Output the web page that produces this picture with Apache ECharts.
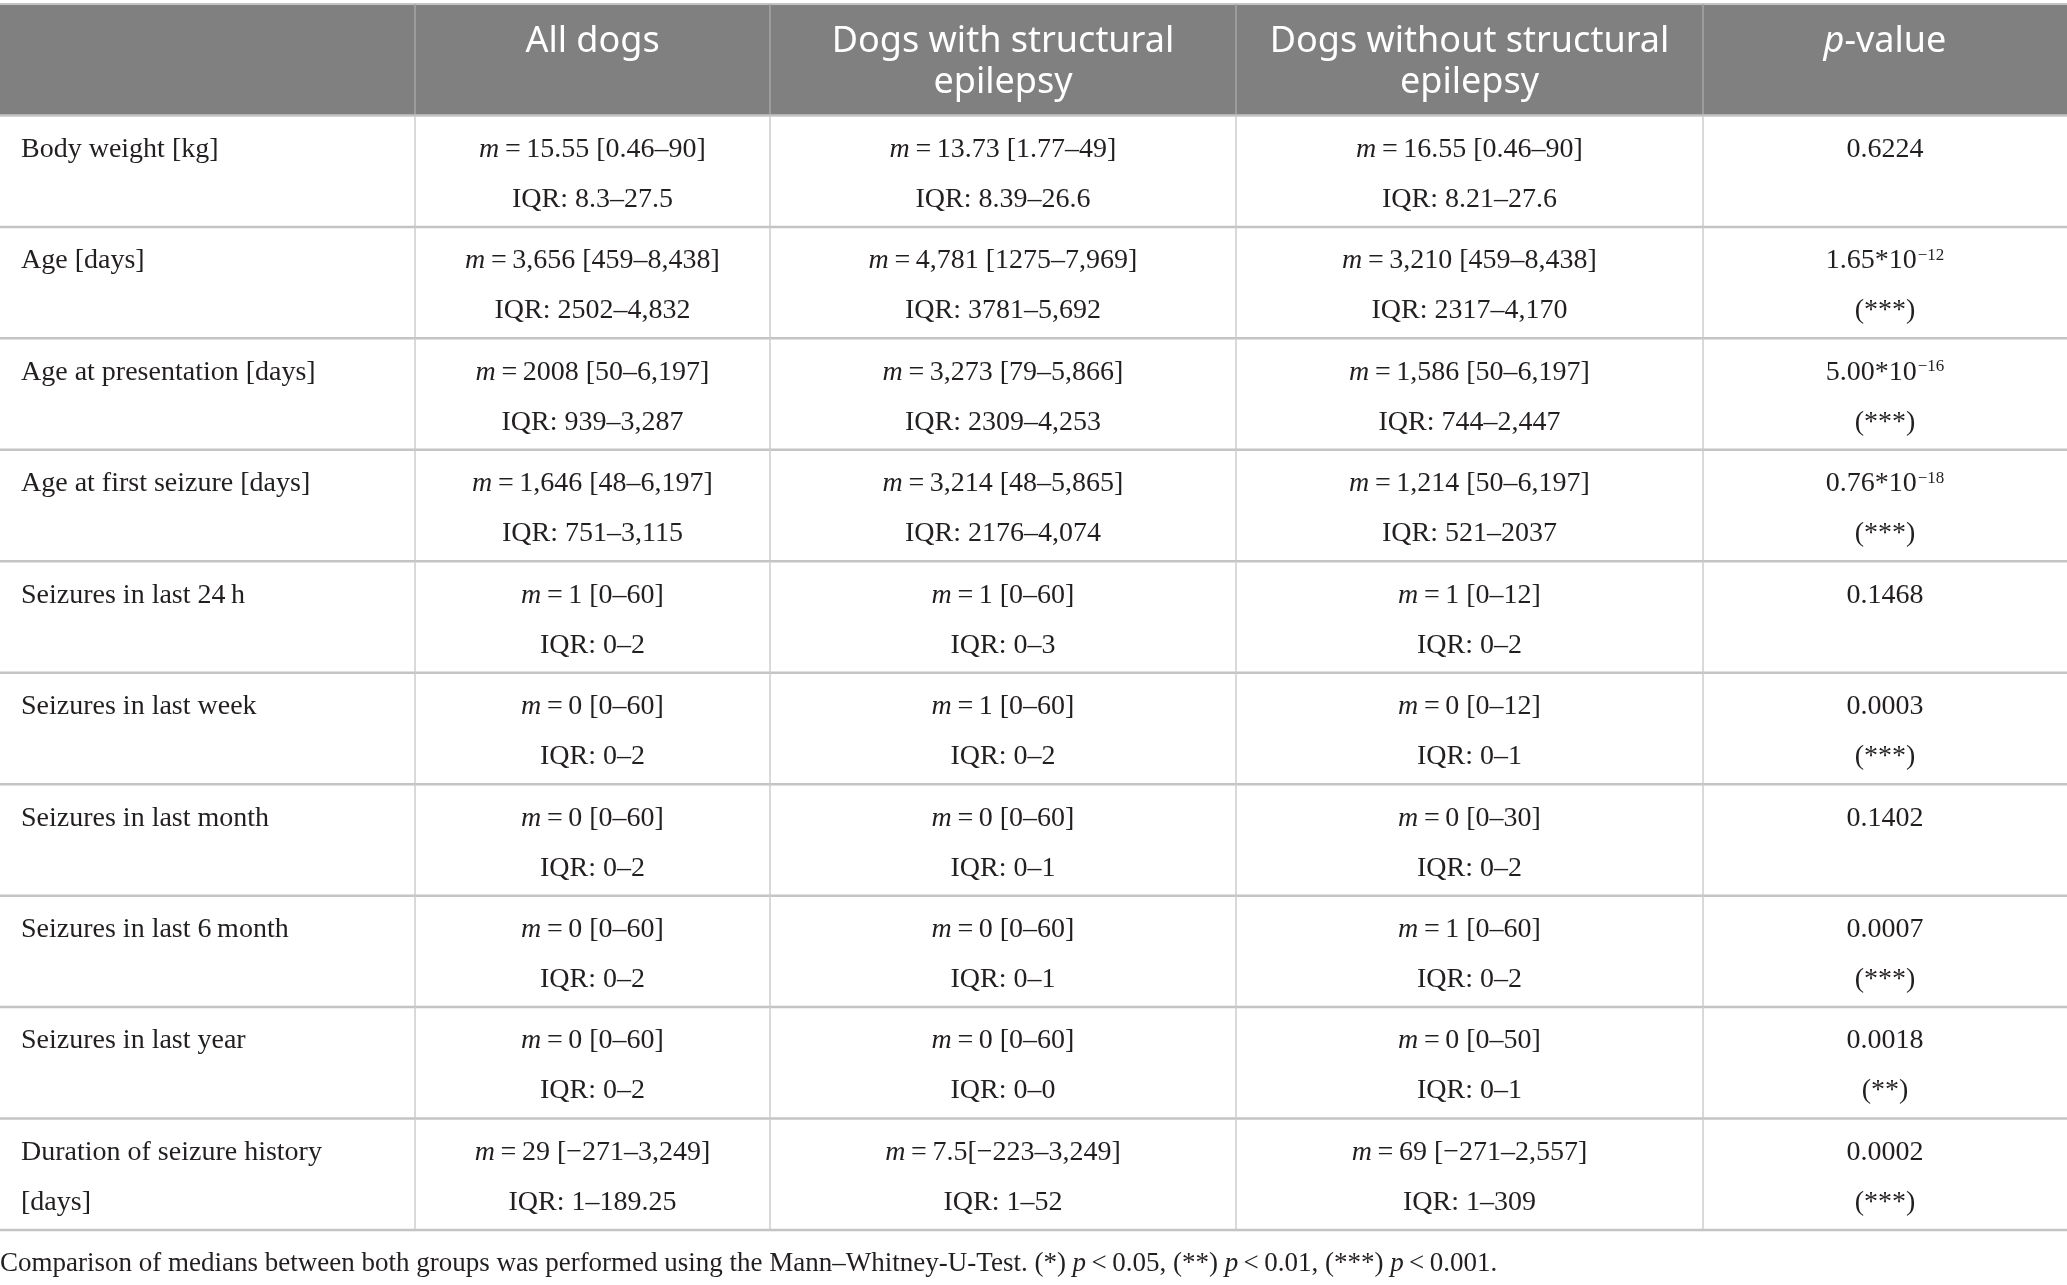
<!DOCTYPE html>
<html lang="en">
<head>
    <meta charset="UTF-8">
    <title>Dogs with and without structural epilepsy</title>
    <script type="text/javascript" src="https://cdn.jsdelivr.net/npm/echarts@6.0.0/dist/echarts.min.js"></script>
    <style>
        html, body { margin: 0; padding: 0; background: #fff; }
        #main { width: 2067px; height: 1285px; }
    </style>
</head>
<body>
<div id="main"></div>
<script>
    // table content
    var headers = ['', 'All dogs', 'Dogs with structural\nepilepsy', 'Dogs without structural\nepilepsy', 'p-value'];
    var rowLabels = ['Body weight [kg]', 'Age [days]', 'Age at presentation [days]', 'Age at first seizure [days]',
        'Seizures in last 24\u2009h', 'Seizures in last week', 'Seizures in last month', 'Seizures in last 6\u2009month',
        'Seizures in last year', 'Duration of seizure history\n[days]'];
    var allMedian = ['15.55 [0.46–90]', '3,656 [459–8,438]', '2008 [50–6,197]', '1,646 [48–6,197]', '1 [0–60]',
        '0 [0–60]', '0 [0–60]', '0 [0–60]', '0 [0–60]', '29 [−271–3,249]'];
    var allIqr = ['8.3–27.5', '2502–4,832', '939–3,287', '751–3,115', '0–2', '0–2', '0–2', '0–2', '0–2', '1–189.25'];
    var withMedian = ['13.73 [1.77–49]', '4,781 [1275–7,969]', '3,273 [79–5,866]', '3,214 [48–5,865]', '1 [0–60]',
        '1 [0–60]', '0 [0–60]', '0 [0–60]', '0 [0–60]', '7.5[−223–3,249]'];
    var withIqr = ['8.39–26.6', '3781–5,692', '2309–4,253', '2176–4,074', '0–3', '0–2', '0–1', '0–1', '0–0', '1–52'];
    var withoutMedian = ['16.55 [0.46–90]', '3,210 [459–8,438]', '1,586 [50–6,197]', '1,214 [50–6,197]', '1 [0–12]',
        '0 [0–12]', '0 [0–30]', '1 [0–60]', '0 [0–50]', '69 [−271–2,557]'];
    var withoutIqr = ['8.21–27.6', '2317–4,170', '744–2,447', '521–2037', '0–2', '0–1', '0–2', '0–2', '0–1', '1–309'];
    var pBase = ['0.6224', '1.65*10', '5.00*10', '0.76*10', '0.1468', '0.0003', '0.1402', '0.0007', '0.0018', '0.0002'];
    var pExp = ['', '−12', '−16', '−18', '', '', '', '', '', ''];
    var pStars = ['', '(***)', '(***)', '(***)', '', '(***)', '', '(***)', '(**)', '(***)'];

    // layout (column edges in axis units = px)
    var colEdges = [0, 415, 770, 1236, 1703, 2067];

    var serif = 'Liberation Serif', sans = 'Noto Sans';
    var ink = '#231f20';
    var bodySize = 28, headSize = 36;
    var rich = {
        i: { fontFamily: serif, fontSize: bodySize, fontStyle: 'italic', fill: ink },
        sup: { fontFamily: serif, fontSize: 17, fill: ink, verticalAlign: 'top', padding: [0, 0, 0, 1] },
        hi: { fontFamily: sans, fontSize: headSize, fontStyle: 'italic', fill: '#fff' }
    };

    // text lines of a cell (rich strings)
    function cellLines(c, r) {
        if (r === 0) {
            if (c === 4) return ['{hi|p}-value'];
            return headers[c] ? headers[c].split('\n') : [];
        }
        var k = r - 1;
        if (c === 0) return rowLabels[k].split('\n');
        if (c === 1) return ['{i|m}\u2009=\u2009' + allMedian[k], 'IQR: ' + allIqr[k]];
        if (c === 2) return ['{i|m}\u2009=\u2009' + withMedian[k], 'IQR: ' + withIqr[k]];
        if (c === 3) return ['{i|m}\u2009=\u2009' + withoutMedian[k], 'IQR: ' + withoutIqr[k]];
        var first = pBase[k] + (pExp[k] ? '{sup|' + pExp[k] + '}' : '');
        return pStars[k] ? [first, pStars[k]] : [first];
    }

    var cells = [];
    for (var r = 0; r <= rowLabels.length; r++) {
        for (var c = 0; c < headers.length; c++) cells.push([c, r]);
    }

    function renderItem(params, api) {
        var c = api.value(0), r = api.value(1);
        var p0 = api.coord([colEdges[c], r]);
        var p1 = api.coord([colEdges[c + 1], r + 1]);
        var x0 = p0[0], y0 = p0[1], x1 = p1[0], y1 = p1[1];
        var kids = [];
        if (r === 0) {
            kids.push({ type: 'rect', shape: { x: x0, y: y0, width: x1 - x0, height: y1 - y0 }, style: { fill: '#7f807f' } });
            kids.push({ type: 'line', shape: { x1: x0, y1: y0, x2: x1, y2: y0 }, style: { stroke: '#c4c4c4', lineWidth: 2 } });
        }
        if (c > 0) {
            kids.push({ type: 'line', shape: { x1: x0, y1: y0, x2: x0, y2: y1 },
                style: { stroke: r === 0 ? '#a6a6a6' : '#cccccc', lineWidth: 1.5 } });
        }
        kids.push({ type: 'line', shape: { x1: x0, y1: y1, x2: x1, y2: y1 }, style: { stroke: '#c4c4c4', lineWidth: 2.5 } });

        var lines = cellLines(c, r);
        var offs = r === 0 ? [38, 79] : [34, 84];
        lines.forEach(function (t, j) {
            kids.push({
                type: 'text',
                x: c === 0 ? x0 + 21 : (x0 + x1) / 2,
                y: y0 + offs[j],
                style: {
                    text: t,
                    fontFamily: r === 0 ? sans : serif,
                    fontSize: r === 0 ? headSize : bodySize,
                    fill: r === 0 ? '#fff' : ink,
                    align: c === 0 ? 'left' : 'center',
                    verticalAlign: 'middle',
                    rich: rich
                }
            });
        });
        return { type: 'group', children: kids };
    }

    var chart = echarts.init(document.getElementById('main'));
    chart.setOption({
        animation: false,
        backgroundColor: '#fff',
        title: {
            text: 'Comparison of medians between both groups was performed using the Mann–Whitney-U-Test. (*) {i|p}\u2009<\u20090.05, (**) {i|p}\u2009<\u20090.01, (***) {i|p}\u2009<\u20090.001.',
            left: -5,
            top: 1245,
            textStyle: {
                fontFamily: serif, fontSize: 27, fontWeight: 'normal', color: ink,
                rich: { i: { fontFamily: serif, fontSize: 27, fontStyle: 'italic', color: ink } }
            }
        },
        grid: { left: 0, right: 0, top: 4, height: 1226 },
        xAxis: { type: 'value', min: 0, max: 2067, show: false },
        yAxis: { type: 'value', min: 0, max: rowLabels.length + 1, inverse: true, show: false },
        series: [{
            type: 'custom',
            clip: false,
            renderItem: renderItem,
            encode: { x: 0, y: 1 },
            data: cells
        }]
    });
    window.onresize = function () { chart.resize(); };
</script>
</body>
</html>
